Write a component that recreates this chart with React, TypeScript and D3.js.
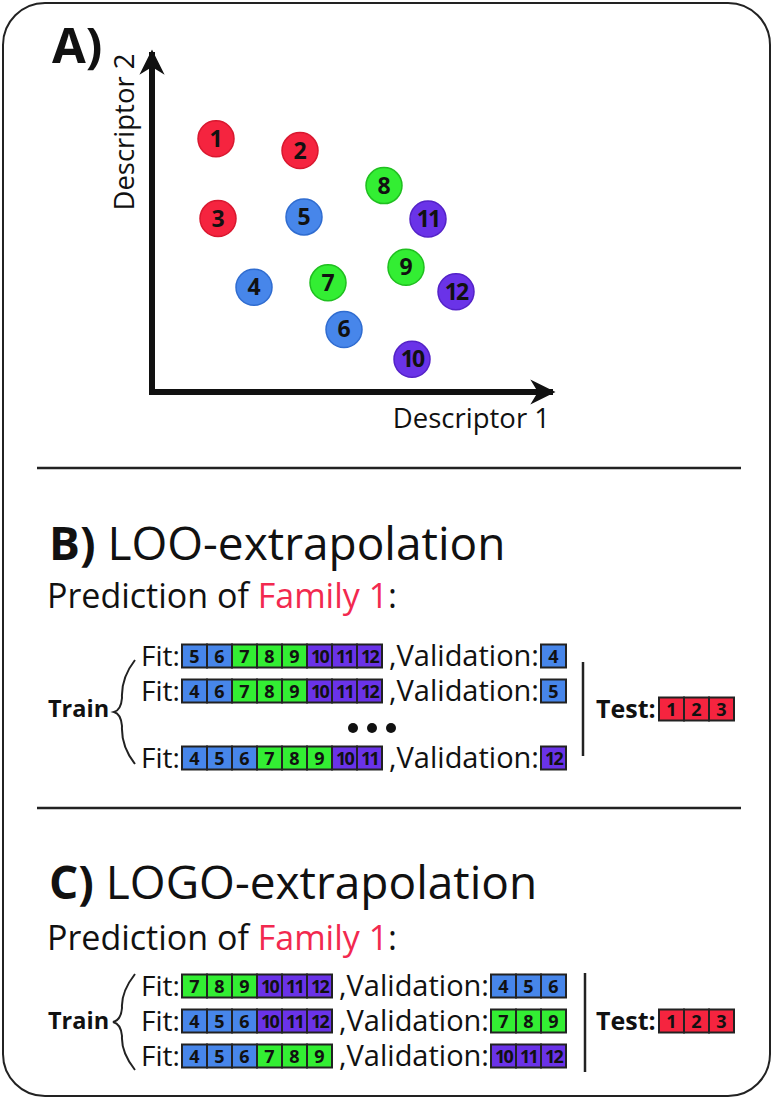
import React from "react";
import * as d3 from "d3";

// ---------- data ----------
const pointIds = [1, 2, 3, 4, 5, 6, 7, 8, 9, 10, 11, 12];
const descriptor1 = [1.6, 3.7, 1.65, 2.55, 3.8, 4.8, 4.4, 5.8, 6.35, 6.5, 6.9, 7.6];
const descriptor2 = [7.45, 7.1, 5.1, 3.08, 5.15, 1.84, 3.21, 6.07, 3.67, 0.96, 5.09, 2.95];
const familyOf = [0, 0, 0, 1, 1, 1, 2, 2, 2, 3, 3, 3];
const familyFill = ["#f5243f", "#4786ea", "#33ee33", "#6a33e8"];
const familyStroke = ["#d9182f", "#2f6cd0", "#1fbf1f", "#5422c8"];

const looFit = [
  [5, 6, 7, 8, 9, 10, 11, 12],
  [4, 6, 7, 8, 9, 10, 11, 12],
  [4, 5, 6, 7, 8, 9, 10, 11],
];
const looValidation = [[4], [5], [12]];
const logoFit = [
  [7, 8, 9, 10, 11, 12],
  [4, 5, 6, 10, 11, 12],
  [4, 5, 6, 7, 8, 9],
];
const logoValidation = [[4, 5, 6], [7, 8, 9], [10, 11, 12]];
const testSet = [1, 2, 3];

const FONT = "'Open Sans', 'Noto Sans', sans-serif";
const CELL_W = 25;
const CELL_H = 23;

const x = d3.scaleLinear().domain([0, 10]).range([152, 552]);
const y = d3.scaleLinear().domain([0, 10]).range([392, 52]);

function Cells({ ids, x0, cy }: { ids: number[]; x0: number; cy: number }) {
  const band = d3
    .scaleBand<number>()
    .domain(ids.map((_, i) => i))
    .range([x0, x0 + ids.length * CELL_W]);
  return (
    <g>
      {ids.map((id, i) => {
        const f = familyOf[id - 1];
        const bx = band(i)!;
        return (
          <g key={i}>
            <rect
              x={bx}
              y={cy - CELL_H / 2}
              width={band.bandwidth()}
              height={CELL_H}
              fill={familyFill[f]}
              stroke="#222"
              strokeWidth={2}
            />
            <text
              x={bx + band.bandwidth() / 2}
              y={cy + 6.5}
              textAnchor="middle"
              fontFamily={FONT}
              fontWeight={700}
              fontSize={18}
              letterSpacing={id >= 10 ? -1.8 : 0}
              fill="#111"
            >
              {id}
            </text>
          </g>
        );
      })}
    </g>
  );
}

function Row({
  fit,
  val,
  cy,
}: {
  fit: number[];
  val: number[];
  cy: number;
}) {
  const fitX = 182;
  const fitEnd = fitX + fit.length * CELL_W;
  const valX = fitEnd + 159;
  return (
    <g>
      <text x={141} y={cy + 10} fontFamily={FONT} fontSize={28} fill="#111">
        Fit:
      </text>
      <Cells ids={fit} x0={fitX} cy={cy} />
      <text
        x={valX - 2}
        y={cy + 10}
        textAnchor="end"
        fontFamily={FONT}
        fontSize={29}
        fill="#111"
      >
        ,Validation:
      </text>
      <Cells ids={val} x0={valX} cy={cy} />
    </g>
  );
}

function Brace({ x1, top, bottom, tip }: { x1: number; top: number; bottom: number; tip: number }) {
  const mid = (top + bottom) / 2;
  const d = `M${x1},${top} Q${x1 - 14},${top + 18} ${x1 - 13},${mid - 14} Q${x1 - 14},${mid - 2} ${tip},${mid} Q${x1 - 14},${mid + 2} ${x1 - 13},${mid + 14} Q${x1 - 14},${bottom - 18} ${x1},${bottom}`;
  return <path d={d} fill="none" stroke="#222" strokeWidth={2} />;
}

function Title({ letter, rest, baseline }: { letter: string; rest: string; baseline: number }) {
  return (
    <text x={49} y={baseline} fontFamily={FONT} fontSize={46} fill="#111">
      <tspan fontWeight={700}>{letter}</tspan>
      <tspan> {rest}</tspan>
    </text>
  );
}

function Prediction({ baseline }: { baseline: number }) {
  return (
    <text x={47} y={baseline} fontFamily={FONT} fontSize={34} fill="#111">
      Prediction of <tspan fill="#f2294f">Family 1</tspan>:
    </text>
  );
}

function Test({ cy, lineX, top, bottom }: { cy: number; lineX: number; top: number; bottom: number }) {
  return (
    <g>
      <line x1={lineX} x2={lineX} y1={top} y2={bottom} stroke="#222" strokeWidth={2.5} />
      <text x={596} y={cy + 9} fontFamily={FONT} fontWeight={700} fontSize={25} fill="#111">
        Test:
      </text>
      <Cells ids={testSet} x0={659} cy={cy} />
    </g>
  );
}

export default function App() {
  const looCy = [656, 691, 758];
  const logoCy = [986, 1021, 1056];
  return (
    <svg
      width={774}
      height={1100}
      style={{ position: "absolute", left: 0, top: 0, background: "#fff" }}
    >
      <defs>
        <marker id="arr" viewBox="0 0 10 10" refX={9} refY={5} markerWidth={4.2} markerHeight={4.2} orient="auto-start-reverse" markerUnits="strokeWidth">
          <path d="M0,0 L10,5 L0,10 L3,5 Z" fill="#111" />
        </marker>
      </defs>
      <rect x={3} y={3} width={767} height={1093} rx={42} ry={42} fill="#fff" stroke="#222" strokeWidth={2} />

      {/* Panel A */}
      <text x={52} y={63} fontFamily={FONT} fontWeight={700} fontSize={49} fill="#111">
        A)
      </text>
      <line x1={x(0)} y1={y(0) + 3} x2={x(0)} y2={50 + 2} stroke="#111" strokeWidth={6} markerEnd="url(#arr)" />
      <line x1={x(0) - 3} y1={y(0)} x2={555 - 2} y2={y(0)} stroke="#111" strokeWidth={6} markerEnd="url(#arr)" />
      <text
        transform={`translate(134,132) rotate(-90)`}
        textAnchor="middle"
        fontFamily={FONT}
        fontSize={27.5}
        fill="#111"
      >
        Descriptor 2
      </text>
      <text x={550} y={428} textAnchor="end" fontFamily={FONT} fontSize={27.5} fill="#111">
        Descriptor 1
      </text>
      {pointIds.map((id, i) => (
        <g key={id}>
          <circle
            cx={x(descriptor1[i])}
            cy={y(descriptor2[i])}
            r={18}
            fill={familyFill[familyOf[i]]}
            stroke={familyStroke[familyOf[i]]}
            strokeWidth={1.5}
          />
          <text
            x={x(descriptor1[i])}
            y={y(descriptor2[i]) + 8}
            textAnchor="middle"
            fontFamily={FONT}
            fontWeight={700}
            fontSize={23}
            letterSpacing={id >= 10 ? -1.8 : 0}
            fill="#111"
          >
            {id}
          </text>
        </g>
      ))}

      <line x1={37} x2={741} y1={468} y2={468} stroke="#222" strokeWidth={2.5} />

      {/* Panel B */}
      <Title letter="B)" rest="LOO-extrapolation" baseline={560} />
      <Prediction baseline={608} />
      <text x={48} y={717} fontFamily={FONT} fontWeight={700} fontSize={23.5} fill="#111">
        Train
      </text>
      <Brace x1={135} top={660} bottom={764} tip={114} />
      {looFit.map((fit, i) => (
        <Row key={i} fit={fit} val={looValidation[i]} cy={looCy[i]} />
      ))}
      {[353, 372, 391].map((cx) => (
        <circle key={cx} cx={cx} cy={728} r={5} fill="#111" />
      ))}
      <Test cy={709} lineX={583} top={662} bottom={756} />

      <line x1={37} x2={741} y1={808} y2={808} stroke="#222" strokeWidth={2.5} />

      {/* Panel C */}
      <Title letter="C)" rest="LOGO-extrapolation" baseline={899} />
      <Prediction baseline={950} />
      <text x={48} y={1029} fontFamily={FONT} fontWeight={700} fontSize={23.5} fill="#111">
        Train
      </text>
      <Brace x1={135} top={974} bottom={1070} tip={113} />
      {logoFit.map((fit, i) => (
        <Row key={i} fit={fit} val={logoValidation[i]} cy={logoCy[i]} />
      ))}
      <Test cy={1021} lineX={585} top={973} bottom={1072} />
    </svg>
  );
}
